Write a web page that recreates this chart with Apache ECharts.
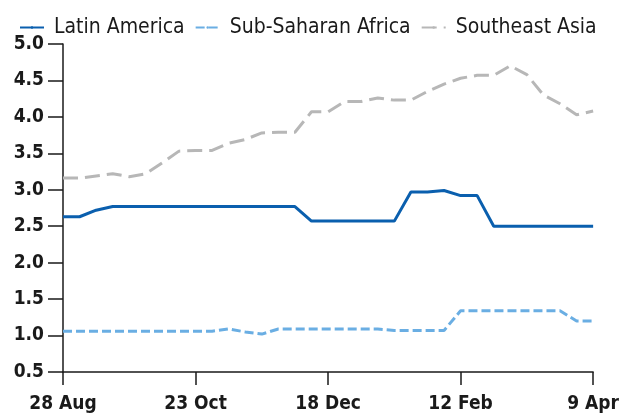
<!DOCTYPE html>
<html>
<head>
<meta charset="utf-8">
<script src="https://cdn.jsdelivr.net/npm/echarts@6/dist/echarts.min.js"></script>
<style>
  html, body { margin: 0; padding: 0; background: #fff; }
  #chart { width: 622px; height: 414px; }
</style>
</head>
<body>
<div id="chart"></div>
<script>
// weekly dates, 28 Aug .. 9 Apr
var weeks = ['28 Aug','4 Sep','11 Sep','18 Sep','25 Sep','2 Oct','9 Oct','16 Oct',
  '23 Oct','30 Oct','6 Nov','13 Nov','20 Nov','27 Nov','4 Dec','11 Dec',
  '18 Dec','25 Dec','1 Jan','8 Jan','15 Jan','22 Jan','29 Jan','5 Feb',
  '12 Feb','19 Feb','26 Feb','5 Mar','12 Mar','19 Mar','26 Mar','2 Apr','9 Apr'];

var latinAmerica = [2.63,2.63,2.72,2.77,2.77,2.77,2.77,2.77,2.77,2.77,2.77,2.77,2.77,2.77,2.77,
  2.57,2.57,2.57,2.57,2.57,2.57,2.97,2.97,2.99,2.92,2.92,2.50,2.50,2.50,2.50,2.50,2.50,2.50];

var subSaharanAfrica = [1.06,1.06,1.06,1.06,1.06,1.06,1.06,1.06,1.06,1.06,1.09,1.05,1.02,1.09,1.09,
  1.09,1.09,1.09,1.09,1.09,1.07,1.07,1.07,1.07,1.34,1.34,1.34,1.34,1.34,1.34,1.34,1.20,1.20];

var southeastAsia = [3.16,3.16,3.19,3.22,3.18,3.22,3.37,3.53,3.54,3.54,3.64,3.69,3.78,3.79,3.79,
  4.07,4.07,4.21,4.21,4.26,4.23,4.23,4.35,4.45,4.53,4.57,4.57,4.70,4.58,4.30,4.18,4.03,4.08];

var yTicks = {min: 0.5, max: 5.0, step: 0.5};

var FONT = '"DejaVu Sans Condensed", "DejaVu Sans", sans-serif';
var INK = '#1a1a1a';

var myChart = echarts.init(document.getElementById('chart'), null, {renderer: 'canvas'});

function lineSeries(name, data, color, type){
  return {
    name: name,
    type: 'line',
    data: data,
    symbol: 'none',
    animation: false,
    lineStyle: {color: color, width: 3, type: type, cap: 'butt'},
    itemStyle: {color: color}
  };
}

var option = {
  backgroundColor: '#fff',
  textStyle: {fontFamily: FONT},
  legend: {
    left: 14,
    top: 12,
    itemWidth: 24,
    itemHeight: 3,
    itemGap: 10,
    textStyle: {fontFamily: FONT, fontSize: 21, color: INK, padding: [0, 0, 0, 5]},
    data: ['Latin America', 'Sub-Saharan Africa', 'Southeast Asia']
  },
  grid: {left: 63, right: 27, top: 44, bottom: 39, containLabel: false},
  xAxis: {
    type: 'category',
    data: weeks,
    boundaryGap: false,
    axisLine: {lineStyle: {color: INK, width: 1.5}},
    axisTick: {show: true, length: 13, interval: 7, lineStyle: {color: INK, width: 1.5}},
    axisLabel: {interval: 7, margin: 23, fontFamily: FONT, fontSize: 19, fontWeight: 'bold', color: INK},
    splitLine: {show: false}
  },
  yAxis: {
    type: 'value',
    min: yTicks.min,
    max: yTicks.max,
    interval: yTicks.step,
    axisLine: {show: true, lineStyle: {color: INK, width: 1.5}},
    axisTick: {show: true, length: 15, lineStyle: {color: INK, width: 1.5}},
    axisLabel: {
      margin: 19, fontFamily: FONT, fontSize: 19, fontWeight: 'bold', color: INK,
      formatter: function(v){ return v.toFixed(1); }
    },
    splitLine: {show: false}
  },
  series: [
    lineSeries('Latin America', latinAmerica, '#0a5fae', 'solid'),
    lineSeries('Sub-Saharan Africa', subSaharanAfrica, '#6aaee3', [9, 4]),
    lineSeries('Southeast Asia', southeastAsia, '#b7b7b7', [15, 7])
  ]
};

myChart.setOption(option);
</script>
</body>
</html>
